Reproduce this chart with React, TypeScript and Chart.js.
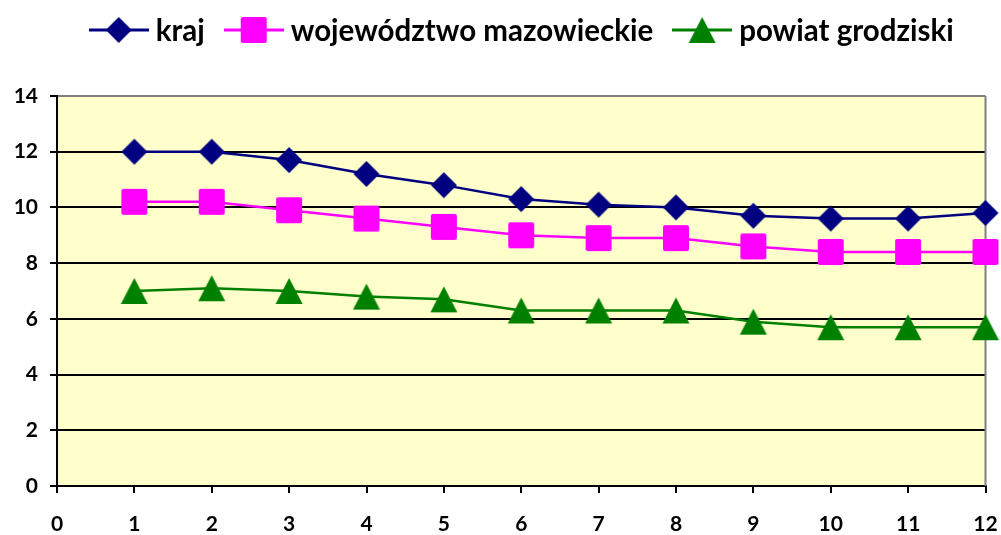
import { useEffect, useRef } from 'react';
import { Chart, registerables } from 'chart.js';
Chart.register(...registerables);

const periods = [1, 2, 3, 4, 5, 6, 7, 8, 9, 10, 11, 12];
const seriesNames = ['kraj', 'województwo mazowieckie', 'powiat grodziski'];
const krajValues = [12.0, 12.0, 11.7, 11.2, 10.8, 10.3, 10.1, 10.0, 9.7, 9.6, 9.6, 9.8];
const mazowieckieValues = [10.2, 10.2, 9.9, 9.6, 9.3, 9.0, 8.9, 8.9, 8.6, 8.4, 8.4, 8.4];
const grodziskiValues = [7.0, 7.1, 7.0, 6.8, 6.7, 6.3, 6.3, 6.3, 5.9, 5.7, 5.7, 5.7];
const xMin = 0;
const xMax = 12;
const yMin = 0;
const yMax = 14;
const yStep = 2;

const FONT = 'Lato, "DejaVu Sans", sans-serif';

type Shape = 'diamond' | 'square' | 'triangle';

function makeMarker(shape: Shape, color: string, lineLen = 0): HTMLCanvasElement {
  const size = 26;
  const w = Math.max(size + 2, lineLen);
  const h = size + 2;
  const c = document.createElement('canvas');
  c.width = w;
  c.height = h;
  const ctx = c.getContext('2d')!;
  const cx = w / 2;
  const cy = h / 2;
  if (lineLen > 0) {
    ctx.strokeStyle = color;
    ctx.lineWidth = 3;
    ctx.beginPath();
    ctx.moveTo(0, cy);
    ctx.lineTo(w, cy);
    ctx.stroke();
  }
  ctx.fillStyle = color;
  ctx.beginPath();
  const r = size / 2;
  if (shape === 'diamond') {
    ctx.moveTo(cx, cy - r);
    ctx.lineTo(cx + r, cy);
    ctx.lineTo(cx, cy + r);
    ctx.lineTo(cx - r, cy);
    ctx.closePath();
  } else if (shape === 'square') {
    const s = r;
    const rr = 2;
    ctx.moveTo(cx - s + rr, cy - s);
    ctx.lineTo(cx + s - rr, cy - s);
    ctx.quadraticCurveTo(cx + s, cy - s, cx + s, cy - s + rr);
    ctx.lineTo(cx + s, cy + s - rr);
    ctx.quadraticCurveTo(cx + s, cy + s, cx + s - rr, cy + s);
    ctx.lineTo(cx - s + rr, cy + s);
    ctx.quadraticCurveTo(cx - s, cy + s, cx - s, cy + s - rr);
    ctx.lineTo(cx - s, cy - s + rr);
    ctx.quadraticCurveTo(cx - s, cy - s, cx - s + rr, cy - s);
    ctx.closePath();
  } else {
    ctx.moveTo(cx, cy - r);
    ctx.lineTo(cx + r + 0.5, cy + r);
    ctx.lineTo(cx - r - 0.5, cy + r);
    ctx.closePath();
  }
  ctx.fill();
  return c;
}

const bgPlugin = {
  id: 'plotBg',
  beforeDraw(chart: any) {
    const { ctx, chartArea } = chart;
    ctx.save();
    ctx.fillStyle = '#FFFFCC';
    ctx.fillRect(chartArea.left, chartArea.top, chartArea.right - chartArea.left, chartArea.bottom - chartArea.top);
    ctx.restore();
  },
  beforeDatasetsDraw(chart: any) {
    const { ctx, chartArea } = chart;
    ctx.save();
    ctx.strokeStyle = '#808080';
    ctx.lineWidth = 2;
    ctx.beginPath();
    ctx.moveTo(chartArea.right, chartArea.top);
    ctx.lineTo(chartArea.right, chartArea.bottom);
    ctx.stroke();
    ctx.restore();
  },
};

const legendPlugin = {
  id: 'lineLegend',
  afterDraw(chart: any) {
    const { ctx, chartArea } = chart;
    const lineLen = 60;
    const gapText = 7;
    const gapItem = 19;
    ctx.save();
    ctx.font = `bold 29.5px ${FONT}`;
    ctx.textBaseline = 'middle';
    ctx.textAlign = 'left';
    const items = chart.data.datasets.map((ds: any) => ({
      label: ds.label,
      img: ds.legendImage,
      tw: ctx.measureText(ds.label).width,
    }));
    let total = 0;
    items.forEach((it: any, i: number) => {
      total += lineLen + gapText + it.tw + (i < items.length - 1 ? gapItem : 0);
    });
    let x = (chartArea.left + chartArea.right) / 2 - total / 2;
    const y = 30;
    items.forEach((it: any) => {
      ctx.drawImage(it.img, x, y - it.img.height / 2);
      x += lineLen + gapText;
      ctx.fillStyle = '#000';
      ctx.fillText(it.label, x, y + 1);
      x += it.tw + gapItem;
    });
    ctx.restore();
  },
};

export default function App() {
  const ref = useRef<HTMLCanvasElement | null>(null);
  useEffect(() => {
    document.body.style.margin = '0';
    const canvas = ref.current!;
    const colors = ['#000080', '#FF00FF', '#008000'];
    const shapes: Shape[] = ['diamond', 'square', 'triangle'];
    const values = [krajValues, mazowieckieValues, grodziskiValues];
    const datasets = seriesNames.map((name, i) => ({
      label: name,
      data: periods.map((p, j) => ({ x: p, y: values[i][j] })),
      borderColor: colors[i],
      backgroundColor: colors[i],
      borderWidth: 2.5,
      pointStyle: makeMarker(shapes[i], colors[i]),
      pointRadius: 13,
      tension: 0,
      clip: false as any,
      legendImage: makeMarker(shapes[i], colors[i], 60),
    }));
    const chart = new Chart(canvas, {
      type: 'line',
      data: { datasets: datasets as any },
      plugins: [bgPlugin, legendPlugin],
      options: {
        animation: false,
        responsive: false,
        devicePixelRatio: 1,
        layout: { padding: { top: 96, right: 14, left: 0, bottom: 0 } },
        plugins: { legend: { display: false }, tooltip: { enabled: false } },
        scales: {
          x: {
            type: 'linear',
            min: xMin,
            max: xMax,
            afterFit: (s: any) => {
              s.height = 49;
              s.paddingRight = 0;
              s.paddingLeft = 0;
            },
            ticks: { stepSize: 1, color: '#000', font: { family: FONT, size: 21, weight: 'bold' }, padding: 19, maxRotation: 0 },
            grid: { drawOnChartArea: false, drawTicks: true, tickLength: 7, color: '#000', lineWidth: 2 },
            border: { display: true, color: '#000', width: 2 },
          },
          y: {
            min: yMin,
            max: yMax,
            afterFit: (s: any) => { s.width = 57; },
            ticks: { stepSize: yStep, color: '#000', font: { family: FONT, size: 21, weight: 'bold' }, padding: 12 },
            grid: {
              color: (c: any) => (c.tick && c.tick.value === yMax ? '#808080' : '#000'),
              lineWidth: 2,
              tickLength: 7,
              tickColor: '#000',
            },
            border: { display: true, color: '#000', width: 2 },
          },
        },
      },
    });
    return () => chart.destroy();
  }, []);
  return <canvas ref={ref} width={1001} height={535} style={{ display: 'block' }} />;
}
